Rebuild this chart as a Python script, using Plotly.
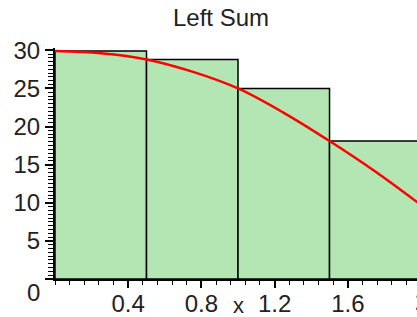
import plotly.graph_objects as go

# Data
bar_left = [0.0, 0.5, 1.0, 1.5]
bar_width = 0.5
bar_heights = [29.9, 28.8, 25.0, 18.1]

curve_x = [0.0, 0.25, 0.5, 0.75, 1.0, 1.25, 1.5, 1.75, 2.0]
curve_y = [29.9, 29.6, 28.8, 27.2, 25.0, 21.8, 18.1, 14.1, 9.7]

x_tickvals = [0.4, 0.8, 1.2, 1.6]
x_ticktext = ["0.4", "0.8", "1.2", "1.6"]
y_tickvals = [0, 5, 10, 15, 20, 25, 30]
y_ticktext = ["", "5", "10", "15", "20", "25", "30"]

title_text = "Left Sum"
x_title = "x"

X_RANGE = [0, 1.978]
Y_RANGE = [0, 30.3]

FONT = "Liberation Sans, Arial, sans-serif"

fig = go.Figure()
fig.add_trace(go.Bar(
    x=[l + bar_width / 2 for l in bar_left],
    y=bar_heights,
    width=[bar_width] * len(bar_left),
    marker=dict(color="#B3E6B3", line=dict(color="black", width=1.5)),
    hoverinfo="skip",
))
fig.add_trace(go.Scatter(
    x=curve_x, y=curve_y, mode="lines",
    line=dict(color="#FF0000", width=2.5, shape="spline"),
    hoverinfo="skip",
))

fig.update_layout(
    width=417, height=317,
    margin=dict(l=55, r=0, t=48, b=38, autoexpand=False),
    paper_bgcolor="white", plot_bgcolor="white",
    showlegend=False,
    font=dict(family=FONT, size=24, color="#222222"),
    title=dict(text=title_text, x=221 / 417, xanchor="center", xref="container",
               y=1 - 18 / 317, yanchor="middle", yref="container",
               font=dict(family=FONT, size=24, color="#222222")),
    xaxis=dict(range=X_RANGE, showgrid=False, zeroline=False, automargin=False,
               showline=True, linecolor="black", linewidth=2,
               tickvals=x_tickvals, ticktext=x_ticktext,
               ticks="outside", ticklen=7, tickwidth=1.5, tickcolor="black",
               ticklabelstandoff=-5,
               minor=dict(dtick=0.08, tick0=0, ticks="outside", ticklen=3.5,
                          tickwidth=1, tickcolor="black", showgrid=False),
               tickfont=dict(size=24)),
    yaxis=dict(range=Y_RANGE, showgrid=False, zeroline=False, automargin=False,
               showline=True, linecolor="black", linewidth=2,
               tickvals=y_tickvals, ticktext=y_ticktext,
               ticks="outside", ticklen=8, tickwidth=1.5, tickcolor="black",
               minor=dict(dtick=0.5, tick0=0, ticks="outside", ticklen=5,
                          tickwidth=1, tickcolor="black", showgrid=False),
               tickfont=dict(size=24)),
)

# "0" label on the y axis, shifted down as in the reference
fig.add_annotation(text="0", xref="paper", x=0, xanchor="right", xshift=-13,
                   yref="y", y=0, yanchor="middle", yshift=-13,
                   showarrow=False, font=dict(size=24, family=FONT, color="#222222"))
# "2" tick label, partially cut at right edge
fig.add_annotation(text="2", xref="paper", x=(2 - X_RANGE[0]) / (X_RANGE[1] - X_RANGE[0]),
                   xanchor="center", yref="paper", y=0, yanchor="top", yshift=-7,
                   showarrow=False, font=dict(size=24, family=FONT, color="#222222"))
# axis title "x"
fig.add_annotation(text=x_title, xref="x", x=1.0, xanchor="center",
                   yref="paper", y=0, yanchor="middle", yshift=-26,
                   showarrow=False, font=dict(size=22, family=FONT, color="#222222"))

fig.write_html(
    "out.html",
    config={"displayModeBar": False},
    post_script="document.body.style.margin='0';document.body.style.overflow='hidden';",
)
